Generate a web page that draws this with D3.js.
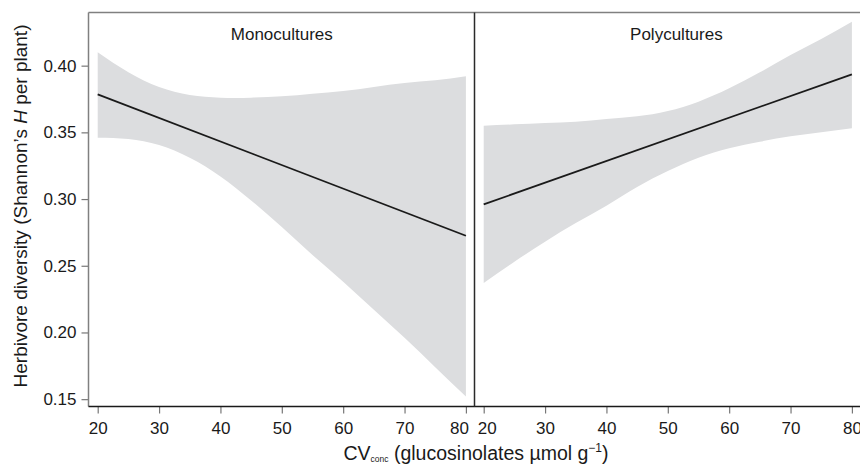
<!DOCTYPE html>
<html>
<head>
<meta charset="utf-8">
<script src="https://cdn.jsdelivr.net/npm/d3@7"></script>
<style>
  body { margin: 0; background: #fff; }
  svg text { font-family: 'Liberation Sans', Arial, sans-serif; fill: #1a1a1a; }
</style>
</head>
<body>
<div id="chart"></div>
<script>
// values
const xValues = [20, 25, 30, 35, 40, 45, 50, 55, 60, 65, 70, 75, 80];
const monoUpper = [0.410, 0.395, 0.384, 0.378, 0.376, 0.376, 0.377, 0.379, 0.381, 0.384, 0.387, 0.389, 0.392];
const monoLower = [0.346, 0.345, 0.3405, 0.331, 0.317, 0.299, 0.279, 0.258, 0.238, 0.217, 0.196, 0.174, 0.152];
const polyUpper = [0.355, 0.356, 0.357, 0.358, 0.360, 0.362, 0.366, 0.373, 0.383, 0.395, 0.408, 0.420, 0.433];
const polyLower = [0.237, 0.253, 0.268, 0.282, 0.295, 0.309, 0.321, 0.331, 0.338, 0.343, 0.347, 0.350, 0.353];
const fitX = [20, 80];
const monoFit = [0.3785, 0.2725];
const polyFit = [0.296, 0.3935];
const xTicks = [20, 30, 40, 50, 60, 70, 80];
const yTicks = [0.15, 0.20, 0.25, 0.30, 0.35, 0.40];
const panelNames = ['Monocultures', 'Polycultures'];

const width = 860;
const height = 469;
const plotLeft = 88.5;
const plotTop = 12.5;
const plotBottom = 406.5;
const panelW = 386;

const svg = d3.select('#chart')
  .append('svg')
  .attr('width', width)
  .attr('height', height);

const y = d3.scaleLinear()
  .domain([0.1445, 0.44])
  .range([plotBottom, plotTop - 0.2]);

const panels = [
  { name: panelNames[0], upper: monoUpper, lower: monoLower, fit: monoFit, titleAt: 50, edgeTick: 80, nudge: -7 },
  { name: panelNames[1], upper: polyUpper, lower: polyLower, fit: polyFit, titleAt: 51.4, edgeTick: 20, nudge: 3 },
];

panels.forEach((p, i) => {
  const x0 = plotLeft + i * panelW;
  const x = d3.scaleLinear()
    .domain([18.5, 81.4])
    .range([x0, x0 + panelW]);

  const band = xValues.map((v, j) => ({ x: v, lo: p.lower[j], hi: p.upper[j] }));
  const area = d3.area()
    .x((d) => x(d.x))
    .y0((d) => y(d.lo))
    .y1((d) => y(d.hi))
    .curve(d3.curveNatural);

  svg.append('path')
    .datum(band)
    .attr('d', area)
    .attr('fill', '#dcdddf');

  const line = d3.line()
    .x((d) => x(d[0]))
    .y((d) => y(d[1]));

  svg.append('path')
    .datum(fitX.map((v, j) => [v, p.fit[j]]))
    .attr('d', line)
    .attr('fill', 'none')
    .attr('stroke', '#1a1a1a')
    .attr('stroke-width', 1.8);

  // bottom axis for this panel
  const ax = svg.append('g')
    .attr('transform', `translate(0,${plotBottom})`)
    .call(d3.axisBottom(x).tickValues(xTicks).tickSize(7).tickPadding(8));
  ax.select('.domain').remove();
  ax.selectAll('line').attr('stroke', '#777').attr('stroke-width', 1.2);
  ax.selectAll('text').attr('font-size', 17).attr('fill', '#1a1a1a')
    .attr('dx', (d) => (d === p.edgeTick ? p.nudge : 0));

  svg.append('text')
    .attr('x', x(p.titleAt))
    .attr('y', 40)
    .attr('text-anchor', 'middle')
    .attr('font-size', 17)
    .text(p.name);
});

// y axis
const ay = svg.append('g')
  .attr('transform', `translate(${plotLeft},0)`)
  .call(d3.axisLeft(y).tickValues(yTicks).tickFormat(d3.format('.2f')).tickSize(7).tickPadding(5));
ay.select('.domain').remove();
ay.selectAll('line').attr('stroke', '#777').attr('stroke-width', 1.2);
ay.selectAll('text').attr('font-size', 17).attr('fill', '#1a1a1a');

// frame
svg.append('line')
  .attr('x1', plotLeft).attr('x2', width)
  .attr('y1', plotTop).attr('y2', plotTop)
  .attr('stroke', '#808080').attr('stroke-width', 1.5);
svg.append('line')
  .attr('x1', plotLeft).attr('x2', plotLeft)
  .attr('y1', plotTop).attr('y2', plotBottom)
  .attr('stroke', '#808080').attr('stroke-width', 1.5);
svg.append('line')
  .attr('x1', plotLeft).attr('x2', width)
  .attr('y1', plotBottom).attr('y2', plotBottom)
  .attr('stroke', '#1a1a1a').attr('stroke-width', 1.5);
svg.append('line')
  .attr('x1', plotLeft + panelW).attr('x2', plotLeft + panelW)
  .attr('y1', plotTop).attr('y2', plotBottom)
  .attr('stroke', '#2a2a2a').attr('stroke-width', 1.5);

// axis titles
const yl = svg.append('text')
  .attr('transform', 'translate(27,206) rotate(-90)')
  .attr('text-anchor', 'middle')
  .attr('font-size', 19);
yl.append('tspan').text('Herbivore diversity (Shannon\u2019s ');
yl.append('tspan').attr('font-style', 'italic').text('H');
yl.append('tspan').text(' per plant)');

const xl = svg.append('text')
  .attr('x', 476)
  .attr('y', 460)
  .attr('text-anchor', 'middle')
  .attr('font-size', 19.5);
xl.append('tspan').text('CV');
xl.append('tspan').attr('font-size', 8.5).attr('dy', 1.5).text('conc');
xl.append('tspan').attr('dy', -1.5).text(' (glucosinolates \u00b5mol g');
xl.append('tspan').attr('font-size', 12).attr('dy', -8).text('\u22121');
xl.append('tspan').attr('dy', 8).text(')');
</script>
</body>
</html>
